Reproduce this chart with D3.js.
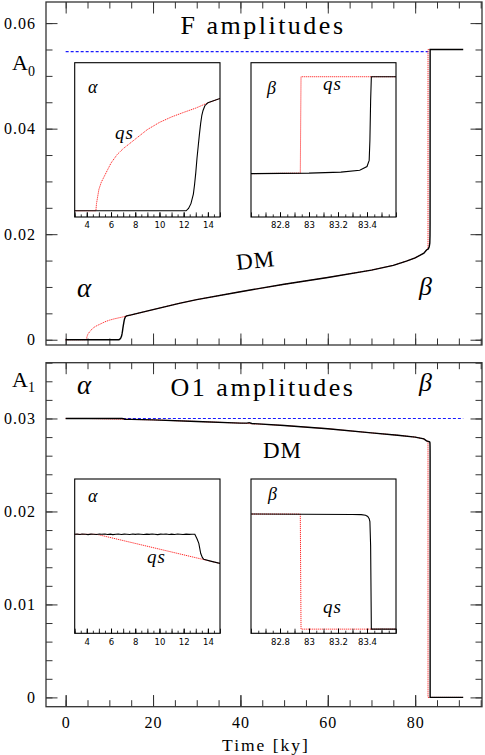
<!DOCTYPE html>
<html>
<head>
<meta charset="utf-8">
<script src="https://cdn.jsdelivr.net/npm/d3@7"></script>
<style>
  body { margin: 0; background: #fff; }
  svg { display: block; }
</style>
</head>
<body>
<script>
// ---- data (time in ky, amplitude) ----
// F mode, quasi-static (red dotted)
const fQS = [[0,0],[4.75,0],[4.8,0.0003],[4.9,0.0006],[5.0,0.0009],[5.2,0.0012],[5.5,0.0015],[6,0.0020],
  [6.5,0.00235],[7,0.0026],[8,0.0030],[9,0.0034],[10,0.0037],[11,0.00393],[12,0.00412],[13,0.0043],
  [14,0.00452],[15,0.0047],[20,0.0057],[26,0.0069],[30,0.0076],[40,0.0091],[50,0.0105],[60,0.0118],
  [70,0.0132],[75,0.0141],[78,0.0149],[80,0.0155],[82,0.0164],[82.6,0.0170],[82.94,0.0172],
  [82.945,0.0550],[91,0.0550]];
// F mode, dynamical model (black)
const fDM = [[0,0],[12.2,0],[12.4,0.0001],[12.6,0.0003],[12.8,0.0007],[12.9,0.0011],[13.0,0.0016],
  [13.1,0.0022],[13.2,0.0027],[13.3,0.0032],[13.4,0.00365],[13.5,0.0040],[13.6,0.0042],[13.75,0.0044],
  [14,0.00452],[15,0.0047],[20,0.0057],[26,0.0069],[30,0.0076],[40,0.0091],[50,0.0105],[60,0.0118],
  [70,0.0132],[75,0.0141],[78,0.0149],[80,0.0155],[82,0.0164],[82.6,0.0170],[83,0.0172],[83.22,0.0176],
  [83.35,0.0183],[83.4,0.0198],[83.415,0.0222],[83.42,0.030],[83.425,0.0455],[83.43,0.0550],[91,0.0550]];
// F mode, linear reference (blue dashed)
const fRef = [[0,0.0546],[83.0,0.0546]];

// O1 mode, quasi-static (red dotted)
const oQS = [[0,0.0300],[4.82,0.0300],[15,0.02990],[20,0.02985],[30,0.02968],[40,0.0295],[50,0.02925],
  [60,0.0289],[70,0.02845],[76,0.0282],[80,0.0280],[82,0.0278],[82.6,0.0276],[82.94,0.02758],
  [82.945,0],[91,0]];
// O1 mode, dynamical model (black)
const oDM = [[0,0.0300],[3,0.0300],[3.2,0.0300008],[3.45,0.0299994],[3.6,0.0300011],[3.9,0.0300002],
  [4.1,0.0299991],[4.35,0.0300007],[4.55,0.0300001],[4.8,0.0299992],[5.05,0.0300009],[5.2,0.0300003],
  [5.5,0.0300012],[5.7,0.0299995],[5.95,0.0300006],[6.15,0.0299989],[6.4,0.0300004],[6.6,0.030001],
  [6.85,0.0299996],[7.1,0.0300008],[7.3,0.0300001],[7.55,0.0299992],[7.8,0.0300009],[8.0,0.0299998],
  [8.25,0.0300011],[8.45,0.0300003],[8.7,0.0299993],[8.95,0.0300006],[9.15,0.0299997],[9.4,0.0300012],
  [9.6,0.0300002],[9.85,0.0299991],[10.1,0.0300007],[10.3,0.0300001],[10.55,0.030001],[10.8,0.0299994],
  [11.0,0.0300005],[11.25,0.0299996],[11.5,0.0300009],[11.7,0.0300002],[11.95,0.0299993],[12.2,0.0300006],
  [12.45,0.0299998],[12.7,0.0300004],[12.92,0.0300],
  [13.1,0.029985],[13.25,0.029969],[13.41,0.029934],[13.55,0.02992],[13.66,0.029914],[14.3,0.029907],
  [15,0.02990],[20,0.02985],[30,0.02968],[40,0.0295],[41.5,0.02950],[42,0.02955],[42.6,0.02946],
  [50,0.02925],[60,0.0289],[70,0.02845],[76,0.0282],[80,0.0280],[82,0.0278],[82.6,0.0276],[83.3,0.0275],
  [83.36,0.02745],[83.39,0.0273],[83.405,0.0270],[83.415,0.0265],[83.42,0.0258],[83.425,0.020],
  [83.43,0],[91,0]];
// O1 mode, linear reference (blue dashed)
const oRef = [[13.1,0.0300],[91,0.0300]];

// ---- tick labels ----
const xTickLabels = [0, 20, 40, 60, 80];
const fTickLabels = [0, 0.02, 0.04, 0.06];
const oTickLabels = [0, 0.01, 0.02, 0.03];
const alphaTickLabels = [4, 6, 8, 10, 12, 14];
const betaTickLabels = [82.8, 83, 83.2, 83.4];

const width = 485, height = 755;
const serif = "'Liberation Serif', 'Times New Roman', serif";
const frameColor = "#333";

const svg = d3.select("body").append("svg")
    .attr("width", width)
    .attr("height", height);

const x = d3.scaleLinear().domain([-4.5, 95.3]).range([46, 482]);
const yF = d3.scaleLinear().domain([-0.001, 0.064]).range([345, 2]);
const yO = d3.scaleLinear().domain([-0.001, 0.036]).range([706.7, 362.7]);

let clipId = 0;
function clipped(g, x0, y0, w, h) {
    const id = "clip" + (clipId++);
    svg.append("clipPath").attr("id", id)
        .append("rect").attr("x", x0).attr("y", y0).attr("width", w).attr("height", h);
    return g.append("g").attr("clip-path", "url(#" + id + ")");
}

function drawLine(g, data, xs, ys, style) {
    const line = d3.line().x(d => xs(d[0])).y(d => ys(d[1]));
    const p = g.append("path").datum(data)
        .attr("d", line)
        .attr("fill", "none")
        .attr("stroke", style.color)
        .attr("stroke-width", style.width);
    if (style.dash) p.attr("stroke-dasharray", style.dash);
    return p;
}

function tickRow(g, axis, transform, values, size) {
    g.append("g")
        .attr("transform", transform)
        .call(axis.tickValues(values).tickSize(size).tickFormat(""))
        .call(a => a.select(".domain").remove())
        .call(a => a.selectAll("line").attr("stroke", frameColor).attr("stroke-width", 1));
}

const red = {color: "#ff2a2a", width: 1, dash: "1.2,0.8"};
const black = {color: "#000", width: 1.4};
const blue = {color: "#1a1aff", width: 1.2, dash: "3,2"};

function styleLabels(a) {
    a.selectAll("text")
        .attr("font-family", serif)
        .attr("font-size", 16)
        .attr("letter-spacing", 1)
        .attr("fill", "#000");
}

function panel(ys, y0, y1, yMajor, yMinor, labelFmt, lines, showX) {
    const g = svg.append("g");
    const xMinor = d3.range(0, 96, 5);

    tickRow(g, d3.axisTop(x), `translate(0,${y0})`, xMinor, -6.5);
    tickRow(g, d3.axisTop(x), `translate(0,${y0})`, xTickLabels, -11.5);
    tickRow(g, d3.axisBottom(x), `translate(0,${y1})`, xMinor, -6.5);
    tickRow(g, d3.axisBottom(x), `translate(0,${y1})`, xTickLabels, -11.5);
    tickRow(g, d3.axisLeft(ys), "translate(46,0)", yMinor, -6.5);
    tickRow(g, d3.axisRight(ys), "translate(482,0)", yMinor, -6.5);
    tickRow(g, d3.axisRight(ys), "translate(482,0)", yMajor, -11.5);

    // labelled left axis
    g.append("g")
        .attr("transform", "translate(46,0)")
        .call(d3.axisLeft(ys).tickValues(yMajor).tickSize(-11.5).tickPadding(10).tickFormat(labelFmt))
        .call(a => a.select(".domain").remove())
        .call(a => a.selectAll("line").attr("stroke", frameColor))
        .call(styleLabels);

    if (showX) {
        g.append("g")
            .attr("transform", `translate(0,${y1})`)
            .call(d3.axisBottom(x).tickValues(xTickLabels).tickSize(-11.5).tickPadding(10))
            .call(a => a.select(".domain").remove())
            .call(a => a.selectAll("line").attr("stroke", frameColor))
            .call(styleLabels);
    }

    const c = clipped(g, 46, y0, 436, y1 - y0);
    lines.forEach(l => drawLine(c, l[0], x, ys, l[1]));

    g.append("rect")
        .attr("x", 46).attr("y", y0)
        .attr("width", 436).attr("height", y1 - y0)
        .attr("fill", "none")
        .attr("stroke", frameColor)
        .attr("stroke-width", 1.3);
    return g;
}

const fmt = d => d === 0 ? "0" : d3.format(".2f")(d);

panel(yF, 2, 345, fTickLabels, d3.range(0, 0.0641, 0.005), fmt,
    [[fRef, blue], [fQS, red], [fDM, black]], false);
panel(yO, 362.7, 706.7, oTickLabels, d3.range(0, 0.0361, 0.002), fmt,
    [[oRef, blue], [oQS, red], [oDM, black]], true);

// ---- insets ----
function inset(x0, y0, w, h, xDom, yDom, minor, mid, labels, lines) {
    const xs = d3.scaleLinear().domain(xDom).range([x0, x0 + w]);
    const ys = d3.scaleLinear().domain(yDom).range([y0 + h, y0]);
    const g = svg.append("g");
    g.append("rect").attr("x", x0).attr("y", y0).attr("width", w).attr("height", h).attr("fill", "#fff");

    const c = clipped(g, x0, y0, w, h);
    lines.forEach(l => drawLine(c, l[0], xs, ys, {...l[1], width: l[1] === black ? 1.1 : l[1].width}));

    tickRow(g, d3.axisBottom(xs), `translate(0,${y0 + h})`, minor, -2.6);
    tickRow(g, d3.axisBottom(xs), `translate(0,${y0 + h})`, mid, -4.6);
    g.append("g")
        .attr("transform", `translate(0,${y0 + h})`)
        .call(d3.axisBottom(xs).tickValues(labels).tickSize(-4.6).tickPadding(5.3)
            .tickFormat(d => String(+d.toFixed(1))))
        .call(a => a.select(".domain").remove())
        .call(a => a.selectAll("line").attr("stroke", "#000"))
        .call(a => a.selectAll("text").attr("font-family", "'DejaVu Sans', sans-serif")
            .attr("font-size", 8.5).attr("fill", "#000"));

    g.append("rect").attr("x", x0).attr("y", y0).attr("width", w).attr("height", h)
        .attr("fill", "none").attr("stroke", "#000").attr("stroke-width", 1.1);
    return g;
}

const alphaMinor = d3.range(3, 15.01, 0.5);
const alphaMid = d3.range(3, 15.01, 1);
const betaMinor = d3.range(82.6, 83.601, 0.05);
const betaMid = d3.range(82.6, 83.601, 0.1);

inset(74.7, 62.7, 145.3, 154.3, [3, 15], [-0.00026, 0.0062], alphaMinor, alphaMid, alphaTickLabels,
    [[fQS, red], [fDM, black]]);
inset(251, 62.7, 145, 154.3, [82.6, 83.6], [0, 0.0605], betaMinor, betaMid, betaTickLabels,
    [[fQS, red], [fDM, black]]);
inset(74.7, 479, 145.3, 154.3, [3, 15], [0.02966, 0.03019], alphaMinor, alphaMid, alphaTickLabels,
    [[oQS, red], [oDM, black]]);
inset(251, 479, 145, 154.3, [82.6, 83.6], [-0.001, 0.036], betaMinor, betaMid, betaTickLabels,
    [[oQS, red], [oDM, black]]);

// ---- text ----
function label(txt, px, py, size, opts = {}) {
    const t = svg.append("text")
        .attr("x", px).attr("y", py)
        .attr("font-family", serif)
        .attr("font-size", size)
        .attr("fill", "#000")
        .text(txt);
    if (opts.italic) t.attr("font-style", "italic");
    if (opts.anchor) t.attr("text-anchor", opts.anchor);
    if (opts.spacing) t.attr("letter-spacing", opts.spacing);
    if (opts.rotate) t.attr("transform", `rotate(${opts.rotate},${px},${py})`);
    return t;
}

label("F amplitudes", 263, 34, 26, {anchor: "middle", spacing: 2.5});
label("O1 amplitudes", 263, 396, 26, {anchor: "middle", spacing: 2.5});
label("Time [ky]", 266, 751, 17.5, {anchor: "middle", spacing: 2});

function ampLabel(sub, px, py) {
    const t = label("A", px, py, 22);
    t.append("tspan").attr("font-size", 14).attr("dy", 5.5).text(sub);
}
ampLabel("0", 12, 70);
ampLabel("1", 12, 386.5);

label("α", 77, 297, 27, {italic: true});
label("β", 419, 295, 26, {italic: true});
label("α", 77, 394, 27, {italic: true});
label("β", 419, 391, 26, {italic: true});
label("DM", 237, 270, 23, {rotate: -6, spacing: 1});
label("DM", 263, 458, 23, {spacing: 1});

label("α", 88, 93, 18, {italic: true});
label("qs", 115, 139, 19, {italic: true, spacing: 1});
label("β", 267, 94, 18, {italic: true});
label("qs", 323, 90, 19, {italic: true, spacing: 1});
label("α", 88, 501.5, 18, {italic: true});
label("qs", 147, 563, 19, {italic: true, spacing: 1});
label("β", 268, 500, 18, {italic: true});
label("qs", 323, 613, 19, {italic: true, spacing: 1});
</script>
</body>
</html>
